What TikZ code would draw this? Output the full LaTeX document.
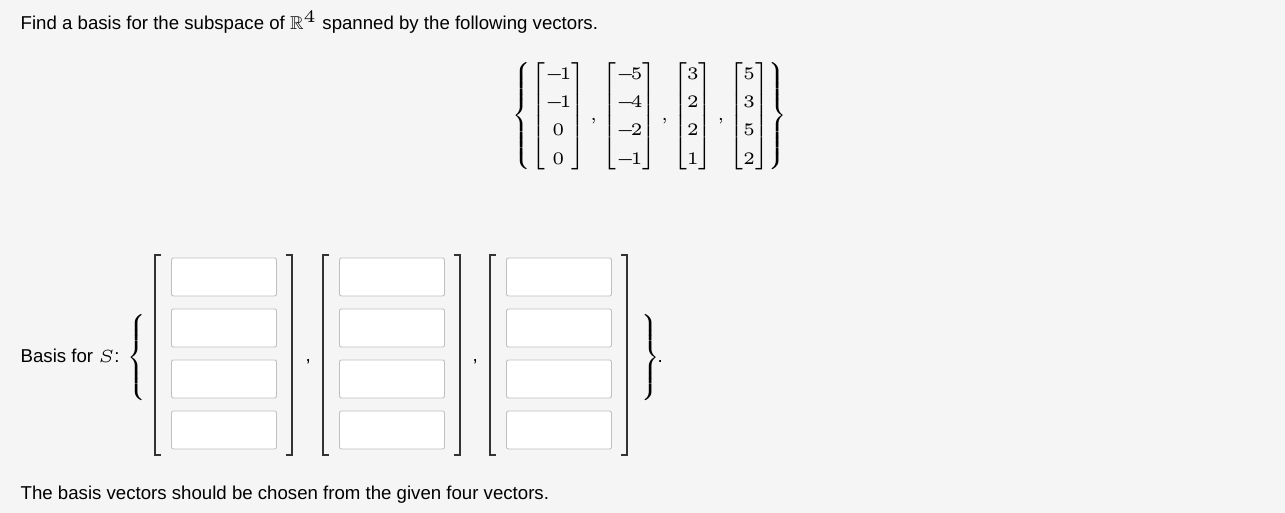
\documentclass[tikz,border=0pt]{standalone}
\usepackage{amsmath,amssymb}
\usepackage[no-math]{fontspec}
\setmainfont{Liberation Sans}
\newcommand{\mn}{\mathord{\mathchar"2200}\!}
\tikzset{
  txt/.style={anchor=west,inner sep=0pt,font=\fontsize{5.3}{6.3}\selectfont},
  inbox/.style={draw=black!25,fill=white,rounded corners=0.6pt,line width=0.25pt,
    minimum width=1.05cm,minimum height=0.38cm,inner sep=0pt},
  brk/.style={line width=0.35pt,black!80},
}
\begin{document}
\begin{tikzpicture}[x=0.01cm,y=-0.01cm]
\fill[black!4] (0,0) rectangle (1285,513);
\useasboundingbox (0,0) rectangle (1285,513);
% question
\node[txt] (q) at (20,22) {Find a basis for the subspace of $\mathbb{R}^4$ spanned by the following vectors.};
\node[inner sep=0pt,font=\fontsize{5.1}{6.1}\selectfont] (vecs) at (650,116)
  {$\renewcommand{\arraystretch}{1.32}\left\{\begin{bmatrix}\mn1\\\mn1\\0\\0\end{bmatrix},\begin{bmatrix}\mn5\\\mn4\\\mn2\\\mn1\end{bmatrix},\begin{bmatrix}3\\2\\2\\1\end{bmatrix},\begin{bmatrix}5\\3\\5\\2\end{bmatrix}\right\}$};
% answer
\node[txt] (lbl) at (20,356) {Basis for $S$:};
\node[inner sep=0pt,font=\fontsize{5.1}{6.1}\selectfont] (lbr) at (139,355) {$\left\{\rule{0pt}{0.52cm}\right.$};
\foreach \i/\xl in {1/155,2/323,3/490}{
  \pgfmathsetmacro{\xr}{\xl+137}
  \draw[brk] (\xl+6,255) -- (\xl,255) -- (\xl,455) -- (\xl+6,455);
  \draw[brk] (\xr-6,255) -- (\xr,255) -- (\xr,455) -- (\xr-6,455);
  \foreach \r/\y in {1/277,2/328,3/379,4/430}
    \node[inbox] (b\i\r) at (\xl+69,\y) {};
}
\node[txt] (c1) at (305,362) {,};
\node[txt] (c2) at (472,362) {,};
\node[inner sep=0pt,font=\fontsize{5.1}{6.1}\selectfont] (rbr) at (648,355) {$\left.\rule{0pt}{0.52cm}\right\}$};
\node[txt] (dot) at (657,362) {.};
\node[txt] (note) at (20,495) {The basis vectors should be chosen from the given four vectors.};
\end{tikzpicture}
\end{document}
